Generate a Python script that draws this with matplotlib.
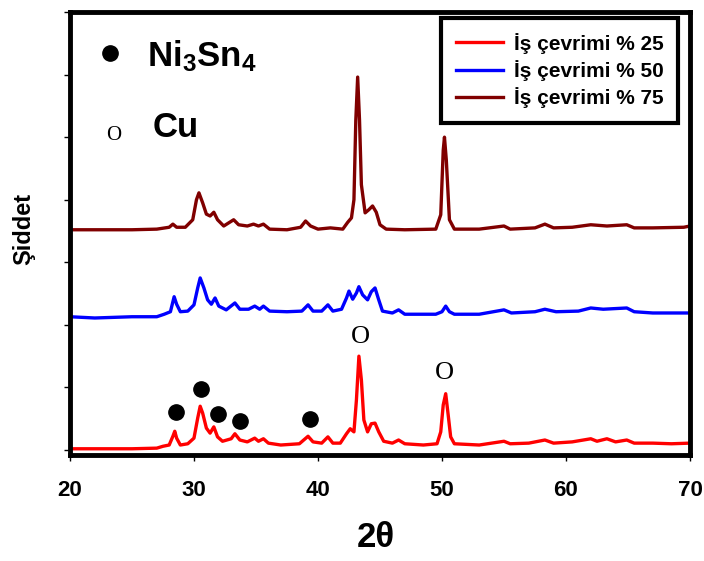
import matplotlib
matplotlib.use("Agg")
import matplotlib.pyplot as plt

plt.rcParams['font.family'] = ['Liberation Sans', 'DejaVu Sans']
plt.rcParams['font.weight'] = 'bold'
plt.rcParams['mathtext.fontset'] = 'custom'
plt.rcParams['mathtext.rm'] = 'Liberation Sans:bold'
plt.rcParams['mathtext.bf'] = 'Liberation Sans:bold'

# XRD patterns, intensity in tick units (ticks at 0..7, no labels)
two_theta_25 = [20, 22, 25, 27, 27.5, 28.0, 28.3, 28.45, 28.6, 28.9, 29.5, 30.0, 30.3, 30.5, 30.7,
                31.0, 31.3, 31.6, 31.9, 32.3, 33.0, 33.3, 33.7, 34.3, 34.9, 35.2, 35.6, 36.0, 37.0,
                38.5, 39.2, 39.6, 40.3, 40.8, 41.2, 41.8, 42.3, 42.6, 42.9, 43.1, 43.3, 43.5, 43.7,
                44.0, 44.3, 44.6, 44.9, 45.3, 46.0, 46.5, 47.0, 48.5, 49.6, 49.9, 50.1, 50.3, 50.5,
                50.7, 51.0, 53.0, 55.0, 55.5, 57.0, 58.3, 59.0, 60.5, 62.0, 62.5, 63.3, 64.0, 64.9,
                65.5, 67.0, 68.5, 70]
intensity_25 = [0.02, 0.02, 0.02, 0.03, 0.06, 0.08, 0.22, 0.30, 0.19, 0.08, 0.10, 0.19, 0.51, 0.70, 0.59,
                0.35, 0.27, 0.37, 0.21, 0.14, 0.18, 0.26, 0.16, 0.13, 0.19, 0.14, 0.18, 0.11, 0.08,
                0.10, 0.22, 0.13, 0.11, 0.21, 0.11, 0.11, 0.26, 0.34, 0.29, 0.80, 1.50, 1.12, 0.48,
                0.29, 0.42, 0.43, 0.29, 0.14, 0.11, 0.16, 0.10, 0.08, 0.10, 0.29, 0.72, 0.90, 0.56,
                0.21, 0.10, 0.08, 0.14, 0.10, 0.11, 0.16, 0.11, 0.13, 0.18, 0.14, 0.18, 0.13, 0.16,
                0.11, 0.11, 0.10, 0.11]

two_theta_50 = [20, 22, 25, 27.0, 27.6, 28.1, 28.4, 28.6, 28.9, 29.5, 30.0, 30.3, 30.5, 30.8, 31.1,
                31.4, 31.7, 32.0, 32.6, 33.3, 33.7, 34.4, 34.9, 35.3, 35.6, 36.1, 37.5, 38.7, 39.2,
                39.6, 40.3, 40.8, 41.2, 41.9, 42.3, 42.5, 42.8, 43.1, 43.3, 43.6, 44.0, 44.3, 44.6,
                44.9, 45.2, 46.0, 46.5, 47.0, 49.5, 50.0, 50.3, 50.6, 51.0, 53.0, 55.0, 55.6, 57.5,
                58.3, 59.2, 61.0, 62.0, 63.0, 64.9, 65.5, 67.0, 70]
intensity_50 = [2.13, 2.11, 2.13, 2.13, 2.17, 2.21, 2.45, 2.33, 2.21, 2.22, 2.32, 2.59, 2.75, 2.59, 2.40,
                2.33, 2.43, 2.30, 2.24, 2.35, 2.25, 2.25, 2.30, 2.25, 2.30, 2.22, 2.21, 2.22, 2.32,
                2.22, 2.22, 2.32, 2.22, 2.25, 2.43, 2.54, 2.41, 2.51, 2.61, 2.48, 2.40, 2.53, 2.59,
                2.40, 2.22, 2.19, 2.24, 2.17, 2.17, 2.21, 2.30, 2.21, 2.17, 2.17, 2.24, 2.19, 2.21,
                2.25, 2.21, 2.22, 2.27, 2.25, 2.27, 2.21, 2.19, 2.19]

two_theta_75 = [20, 22, 25, 27, 28.0, 28.3, 28.6, 29.3, 29.9, 30.2, 30.4, 30.7, 31.0, 31.3, 31.6,
                31.9, 32.4, 33.2, 33.6, 34.3, 34.8, 35.2, 35.6, 36.1, 37.5, 38.6, 39.0, 39.4, 40.0,
                41.0, 42.0, 42.4, 42.7, 42.9, 43.05, 43.2, 43.35, 43.5, 43.8, 44.1, 44.4, 44.7, 45.0,
                45.5, 47.0, 49.5, 49.9, 50.1, 50.2, 50.35, 50.6, 51.0, 53.0, 55.0, 55.5, 57.5, 58.3,
                59.0, 60.5, 62.0, 63.3, 64.9, 65.5, 67.0, 69.5, 70]
intensity_75 = [3.52, 3.52, 3.52, 3.53, 3.56, 3.61, 3.56, 3.56, 3.68, 4.00, 4.11, 3.95, 3.77, 3.74, 3.80,
                3.68, 3.58, 3.68, 3.60, 3.58, 3.61, 3.58, 3.61, 3.53, 3.52, 3.56, 3.66, 3.58, 3.53,
                3.55, 3.53, 3.64, 3.71, 4.00, 5.27, 5.96, 5.27, 4.24, 3.79, 3.84, 3.90, 3.80, 3.60,
                3.53, 3.52, 3.53, 3.76, 4.79, 5.00, 4.63, 3.68, 3.53, 3.53, 3.58, 3.53, 3.55, 3.61,
                3.55, 3.56, 3.60, 3.58, 3.60, 3.55, 3.55, 3.56, 3.58]

labels = ['İş çevrimi % 25', 'İş çevrimi % 50', 'İş çevrimi % 75']
colors = ['#ff0000', '#0000ff', '#800000']

# phase markers on the % 25 pattern
ni3sn4_x = [28.55, 30.6, 31.95, 33.7, 39.35]
ni3sn4_y = [0.61, 0.97, 0.58, 0.46, 0.50]
cu_x = [43.4, 50.2]
cu_y = [1.81, 1.23]

fig = plt.figure(figsize=(7.04, 5.61), dpi=100)
ax = fig.add_axes([0.0994, 0.1889, 0.8807, 0.7897])

for tt, inten, lab, col in zip([two_theta_25, two_theta_50, two_theta_75],
                               [intensity_25, intensity_50, intensity_75],
                               labels, colors):
    ax.plot(tt, inten, color=col, linewidth=2.4, label=lab)

ax.plot(ni3sn4_x, ni3sn4_y, 'o', color='black', markersize=11)
for x, y in zip(cu_x, cu_y):
    ax.text(x, y, 'O', family='Liberation Serif', fontweight='normal', fontsize=19,
            ha='center', va='center')

# phase key
ax.plot([23.2], [6.35], 'o', color='black', markersize=11)
ax.text(26.2, 6.14, r'$\mathbf{Ni_3Sn_4}$', fontsize=25, ha='left', va='baseline')
ax.text(23.5, 5.03, 'O', family='Liberation Serif', fontweight='normal', fontsize=15,
        ha='center', va='center')
ax.text(26.7, 5.0, 'Cu', fontsize=25, ha='left', va='baseline')

ax.set_xlim(20, 70)
ax.set_ylim(-0.08, 7.0)
ax.set_xticks([20, 30, 40, 50, 60, 70])
ax.set_yticks(range(8))
ax.set_yticklabels([])
ax.tick_params(axis='x', direction='out', length=4, width=1, pad=14, labelsize=16)
ax.tick_params(axis='y', direction='out', length=4, width=1)
for s in ax.spines.values():
    s.set_linewidth(3.5)

ax.set_xlabel('2θ', fontsize=25, fontweight='bold')
ax.xaxis.set_label_coords(0.4935, -0.15)
ax.set_ylabel('Şiddet', fontsize=17, fontweight='bold', va='center')
ax.yaxis.set_label_coords(-0.074, 0.51)

leg = ax.legend(loc='upper right', bbox_to_anchor=(0.981, 0.986), borderaxespad=0,
                fontsize=15, fancybox=False, handlelength=2.3, labelspacing=0.3,
                handletextpad=0.5, borderpad=0.7)
leg.get_frame().set_edgecolor('black')
leg.get_frame().set_linewidth(3)
leg.get_frame().set_alpha(1)

fig.savefig('out.png', dpi=100)
